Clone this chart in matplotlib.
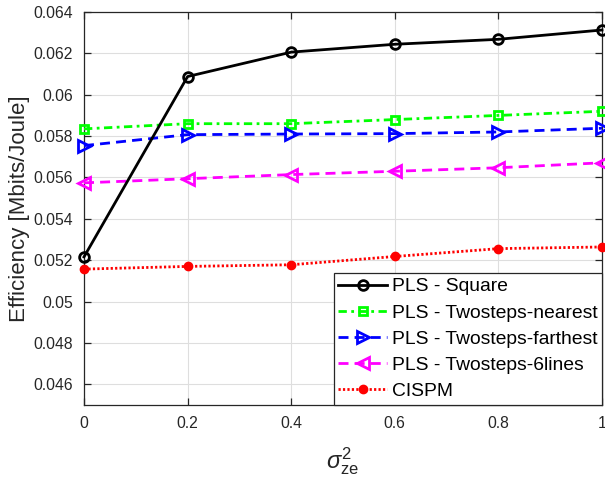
import matplotlib
matplotlib.use("Agg")
import matplotlib.pyplot as plt
from matplotlib.ticker import FixedLocator, FuncFormatter

plt.rcParams['font.family'] = ['Liberation Sans', 'DejaVu Sans']
plt.rcParams['mathtext.fontset'] = 'custom'
plt.rcParams['mathtext.rm'] = 'Liberation Sans'
plt.rcParams['mathtext.it'] = 'Liberation Sans:italic'

# data
sigma2 = [0, 0.2, 0.4, 0.6, 0.8, 1.0]
pls_square = [0.05216, 0.06088, 0.06206, 0.06244, 0.06268, 0.06313]
pls_nearest = [0.05835, 0.05860, 0.05860, 0.05880, 0.05900, 0.05920]
pls_farthest = [0.05754, 0.05807, 0.05810, 0.05812, 0.05820, 0.05838]
pls_6lines = [0.05574, 0.05594, 0.05614, 0.05630, 0.05647, 0.05671]
cispm = [0.05157, 0.05170, 0.05178, 0.05218, 0.05256, 0.05264]

labels = ['PLS - Square', 'PLS - Twosteps-nearest', 'PLS - Twosteps-farthest',
          'PLS - Twosteps-6lines', 'CISPM']
yticks = [0.046, 0.048, 0.05, 0.052, 0.054, 0.056, 0.058, 0.06, 0.062, 0.064]

fig = plt.figure(figsize=(6.05, 4.78), dpi=100)
ax = fig.add_axes([84/605, 73/478, 518/605, 393/478])

ax.plot(sigma2, pls_square, color='black', ls='-', lw=2.0, marker='o', ms=7,
        mfc='none', mew=2.0, label=labels[0], clip_on=False, zorder=5)
ax.plot(sigma2, pls_nearest, color='#00ff00', ls=(0, (3, 1.6, 1, 1.6)), lw=2.0,
        marker='s', ms=5.5, mfc='none', mew=2.0, label=labels[1], clip_on=False, zorder=4)
ax.plot(sigma2, pls_farthest, color='#0000ff', ls=(0, (3.6, 2.2)), lw=2.0,
        marker='>', ms=8.5, mfc='none', mew=2.0, label=labels[2], clip_on=False, zorder=4)
ax.plot(sigma2, pls_6lines, color='#ff00ff', ls=(0, (3.6, 2.2)), lw=2.0,
        marker='<', ms=8.5, mfc='none', mew=2.0, label=labels[3], clip_on=False, zorder=4)
ax.plot(sigma2, cispm, color='#ff0000', ls=(0, (0.8, 0.8)), lw=2.0, marker='o', ms=6,
        mfc='#ff0000', mew=1.0, label=labels[4], clip_on=False, zorder=4)

ax.set_xlim(0, 1)
ax.set_ylim(0.045, 0.064)
ax.xaxis.set_major_locator(FixedLocator(sigma2))
ax.yaxis.set_major_locator(FixedLocator(yticks))
ax.xaxis.set_major_formatter(FuncFormatter(lambda v, p: '%g' % round(v, 4)))
ax.yaxis.set_major_formatter(FuncFormatter(lambda v, p: '%g' % round(v, 4)))

ax.grid(True, color='#dedede', lw=0.8)
ax.set_axisbelow(True)
for s in ax.spines.values():
    s.set_color('#262626')
    s.set_linewidth(0.9)
ax.tick_params(direction='in', length=5, width=0.9, colors='#262626',
               labelsize=11.3, top=True, right=True, pad=8)

ax.set_ylabel('Efficiency [Mbits/Joule]', fontsize=16, color='#262626', labelpad=2)
ax.set_xlabel(r'$\sigma^2_{\mathrm{ze}}$', fontsize=17, color='#262626', labelpad=10)

leg = ax.legend(loc='lower right', bbox_to_anchor=(1.0, 0.0), borderaxespad=0,
                fontsize=13.9, numpoints=1, handlelength=2.5, handletextpad=0.25,
                labelspacing=0.45, borderpad=0.25, fancybox=False, framealpha=1,
                edgecolor='#262626')
leg.get_frame().set_linewidth(0.9)

fig.savefig('out.png', dpi=100)
